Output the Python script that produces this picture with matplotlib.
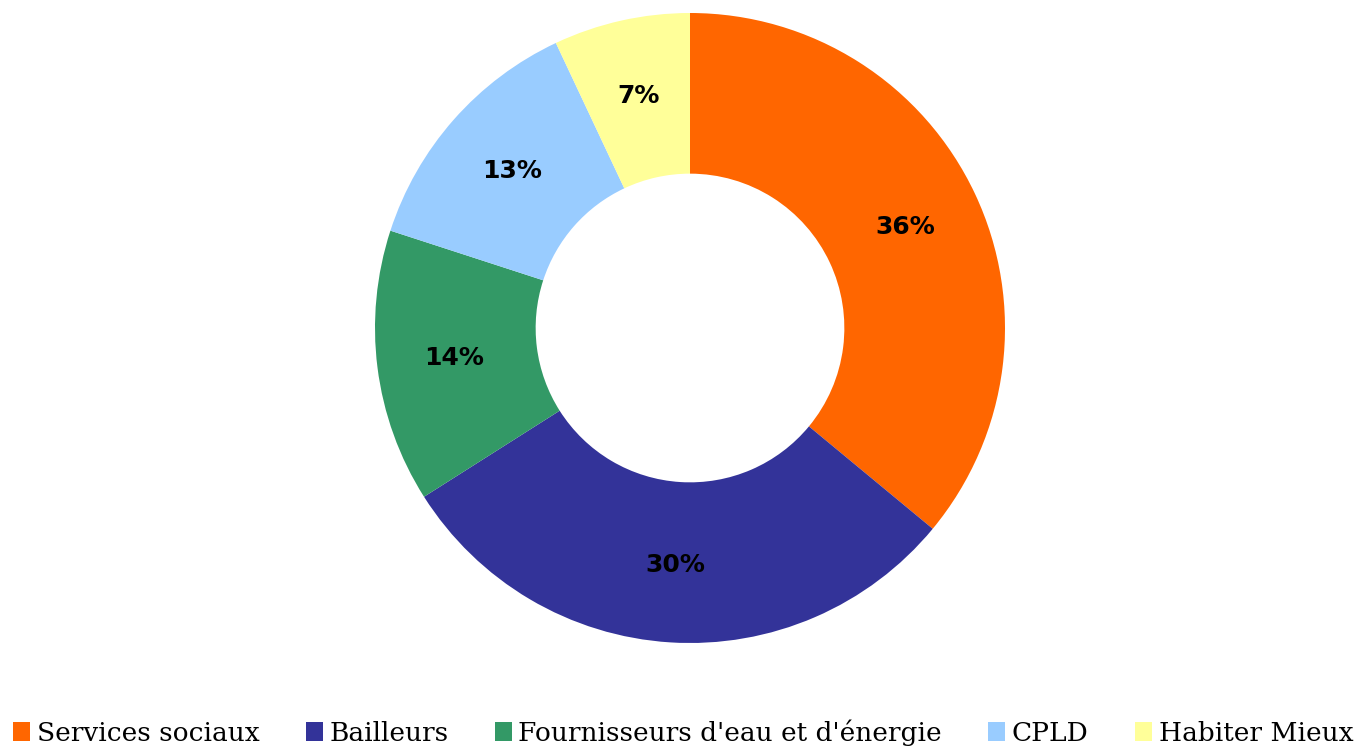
import matplotlib
matplotlib.use("Agg")
import matplotlib.pyplot as plt

labels = ["Services sociaux", "Bailleurs", "Fournisseurs d'eau et d'énergie", "CPLD", "Habiter Mieux"]
shares = [36, 30, 14, 13, 7]
colors = ["#FF6600", "#333399", "#339966", "#99CCFF", "#FFFF99"]

fig = plt.figure(figsize=(13.66, 7.47), dpi=100)
fig.patch.set_facecolor("white")

# donut centred near the top, legend along the bottom edge
ax = fig.add_axes([375 / 1366, 104 / 747, 630 / 1366, 630 / 747])
wedges, texts, autotexts = ax.pie(
    shares, colors=colors, startangle=90, counterclock=False,
    radius=1.0, wedgeprops=dict(width=0.51, edgecolor="none"),
    autopct="%d%%", pctdistance=0.755,
    textprops=dict(fontsize=18, fontweight="bold", family="DejaVu Sans", color="black"),
)
ax.set_xlim(-1, 1)
ax.set_ylim(-1, 1)
ax.set_aspect("equal")
ax.axis("off")

fig.legend(wedges, labels, loc="lower center", bbox_to_anchor=(0.5, -0.03), ncol=5,
           frameon=False, handlelength=0.65, handleheight=0.75, handletextpad=0.25,
           columnspacing=1.75, prop=dict(family="DejaVu Serif", size=19))

fig.savefig("out.png", dpi=100)
